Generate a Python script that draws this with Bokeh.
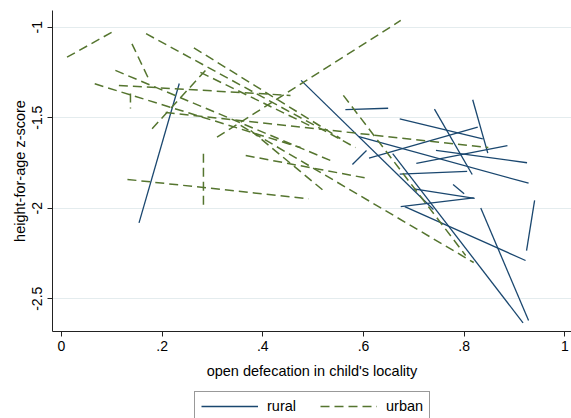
from bokeh.plotting import figure
from bokeh.layouts import column
from bokeh.models import Range1d, FixedTicker, Legend, LegendItem
from bokeh.embed import file_html
from bokeh.resources import INLINE

# rural segments (x0, y0) -> (x1, y1)
rural_x0 = [0.154, 0.476, 0.658, 0.564, 0.672, 0.741, 0.817, 0.591, 0.611, 0.705, 0.744, 0.578, 0.672, 0.833, 0.674, 0.682, 0.924, 0.778, 0.700]
rural_y0 = [-2.081, -1.294, -1.698, -1.455, -1.506, -1.453, -1.401, -1.604, -1.724, -1.753, -1.681, -1.759, -1.812, -1.999, -1.991, -1.991, -2.234, -1.869, -1.893]
rural_x1 = [0.234, 0.739, 0.917, 0.649, 0.837, 0.816, 0.847, 0.928, 0.827, 0.886, 0.925, 0.606, 0.806, 0.928, 0.819, 0.922, 0.940, 0.800, 0.821]
rural_y1 = [-1.311, -2.007, -2.633, -1.448, -1.617, -1.814, -1.696, -1.862, -1.552, -1.654, -1.749, -1.681, -1.797, -2.620, -1.943, -2.289, -1.957, -1.920, -1.946]

# urban segments
urban_x0 = [0.011, 0.140, 0.168, 0.263, 0.309, 0.180, 0.282, 0.131, 0.366, 0.560, 0.207, 0.107, 0.066, 0.114, 0.137, 0.356, 0.376, 0.276]
urban_y0 = [-1.166, -1.092, -1.036, -1.114, -1.608, -1.561, -1.699, -1.841, -1.709, -1.377, -1.471, -1.239, -1.313, -1.322, -1.366, -1.543, -1.571, -1.250]
urban_x1 = [0.104, 0.173, 0.584, 0.554, 0.674, 0.286, 0.282, 0.491, 0.610, 0.803, 0.848, 0.534, 0.475, 0.455, 0.137, 0.819, 0.525, 0.501]
urban_y1 = [-1.022, -1.285, -1.665, -1.615, -0.963, -1.239, -1.991, -1.948, -1.836, -2.261, -1.665, -1.736, -1.665, -1.377, -1.449, -2.300, -1.913, -1.554]

x_ticks = [0, 0.2, 0.4, 0.6, 0.8, 1.0]
x_labels = ["0", ".2", ".4", ".6", ".8", "1"]
y_ticks = [-2.5, -2.0, -1.5, -1.0]
y_labels = ["-2.5", "-2", "-1.5", "-1"]
series_labels = ["rural", "urban"]

FONT = "Liberation Sans"
NAVY = "#1A476F"
GREEN = "#55752F"
DASH = "9 5"

p = figure(width=571, height=381, output_backend="svg", toolbar_location=None,
           x_range=Range1d(-0.0179, 1.0133), y_range=Range1d(-2.681, -0.908),
           min_border_left=52, min_border_right=0, min_border_top=10, min_border_bottom=50)
p.outline_line_color = None
p.background_fill_color = "white"
p.border_fill_color = "white"

p.segment(rural_x0, rural_y0, rural_x1, rural_y1, line_color=NAVY, line_width=1.3)
p.segment(urban_x0, urban_y0, urban_x1, urban_y1, line_color=GREEN, line_width=1.5, line_dash=DASH)

p.xgrid.visible = False
p.ygrid.grid_line_color = "#E4ECEE"
p.ygrid.grid_line_width = 1

p.xaxis.ticker = FixedTicker(ticks=x_ticks)
p.xaxis.major_label_overrides = {t: l for t, l in zip(x_ticks, x_labels)}
p.yaxis.ticker = FixedTicker(ticks=y_ticks)
p.yaxis.major_label_overrides = {t: l for t, l in zip(y_ticks, y_labels)}
p.yaxis.major_label_orientation = "vertical"

for ax in (p.xaxis, p.yaxis):
    ax.axis_line_color = "#222222"
    ax.axis_line_width = 1
    ax.major_tick_line_color = "#222222"
    ax.major_tick_out = 5
    ax.major_tick_in = 0
    ax.minor_tick_line_color = None
    ax.major_label_text_font = FONT
    ax.major_label_text_font_size = "14px"
    ax.major_label_text_color = "black"
    ax.axis_label_text_font = FONT
    ax.axis_label_text_font_size = "14.5px"
    ax.axis_label_text_font_style = "normal"
    ax.axis_label_text_color = "black"

p.xaxis.axis_label = "open defecation in child's locality"
p.yaxis.axis_label = "height-for-age z-score"
p.xaxis.major_label_standoff = 4
p.xaxis.axis_label_standoff = 9
p.yaxis.major_label_standoff = 5
p.yaxis.axis_label_standoff = 2

# legend strip below the chart
q = figure(width=571, height=37, output_backend="svg", toolbar_location=None,
           x_range=Range1d(0, 1), y_range=Range1d(0, 1),
           min_border_left=0, min_border_right=0, min_border_top=0, min_border_bottom=0)
q.axis.visible = False
q.grid.visible = False
q.outline_line_color = None
q.border_fill_color = "white"
q.background_fill_color = "white"
lr = q.line([-5, -4], [-5, -4], line_color=NAVY, line_width=1.3)
lu = q.line([-5, -4], [-5, -4], line_color=GREEN, line_width=1.5, line_dash=DASH)
legend = Legend(items=[LegendItem(label=series_labels[0], renderers=[lr]),
                       LegendItem(label=series_labels[1], renderers=[lu])],
                orientation="horizontal", location=(142, -3))
legend.glyph_width = 57
legend.glyph_height = 16
legend.label_standoff = 9
legend.spacing = 24
legend.padding = 6
legend.margin = 0
legend.border_line_color = "#333333"
legend.border_line_width = 1
legend.label_text_font = FONT
legend.label_text_font_size = "14.5px"
legend.label_text_color = "black"
q.add_layout(legend, "center")

layout = column(p, q, spacing=0)
open("out.html", "w").write(file_html(layout, INLINE))
